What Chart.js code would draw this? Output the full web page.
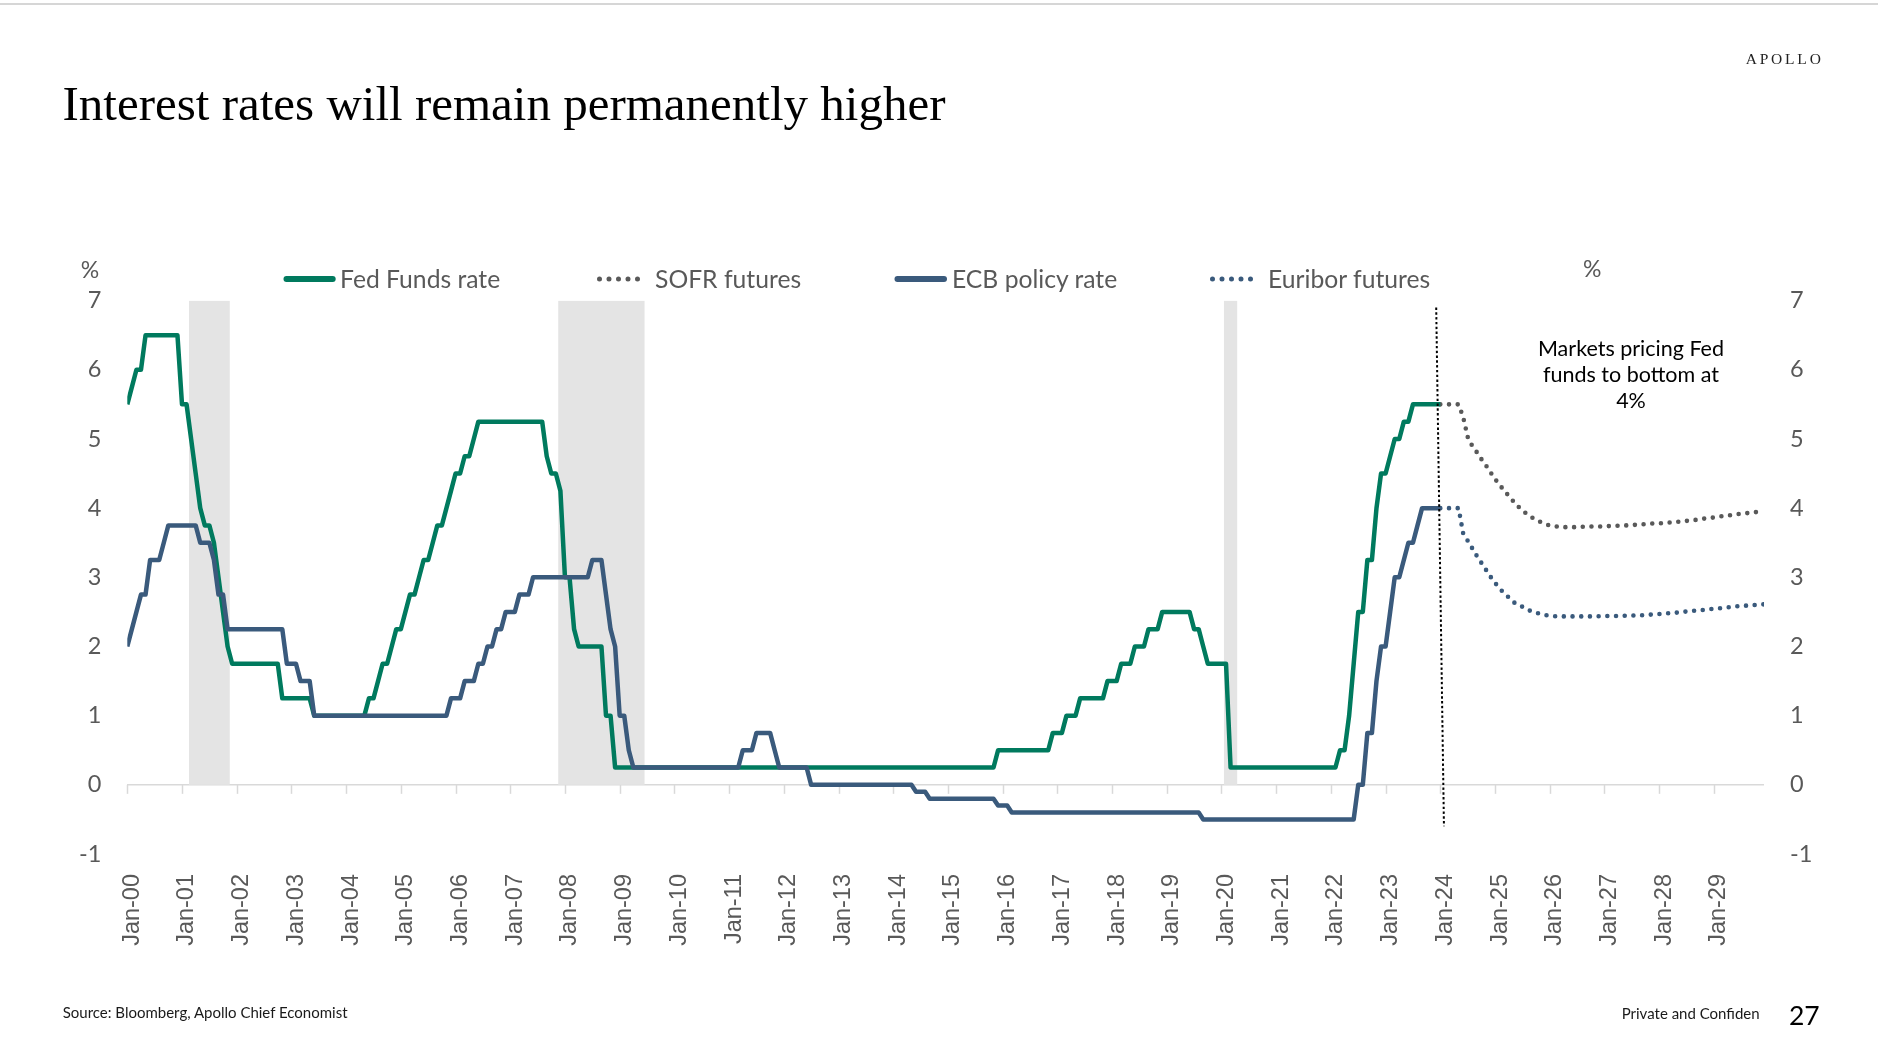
<!DOCTYPE html>
<html>
<head>
<meta charset="utf-8">
<script src="https://cdn.jsdelivr.net/npm/chart.js@4.4.1/dist/chart.umd.min.js"></script>
<style>
  html, body { margin: 0; padding: 0; background: #ffffff; width: 1878px; height: 1060px; overflow: hidden; }
  #c { position: absolute; left: 0; top: 0; width: 1878px; height: 1060px; }
  #ov { position: absolute; left: 0; top: 0; pointer-events: none; }
</style>
</head>
<body>
<canvas id="c" width="1878" height="1060"></canvas>
<svg id="ov" width="1878" height="1060" xmlns="http://www.w3.org/2000/svg">
  <defs>
    <clipPath id="confClip"><rect x="1600" y="990" width="160" height="50"/></clipPath>
  </defs>
  <rect x="0" y="3" width="1878" height="2" fill="#d6d6d6"/>
  <text x="1745.7" y="64.3" font-family="Liberation Serif" font-size="15.5" letter-spacing="2.8" fill="#222">APOLLO</text>
  <text x="62.5" y="119.5" font-family="Liberation Serif" font-size="49" fill="#000">Interest rates will remain permanently higher</text>

  <!-- legend -->
  <g id="legend" font-family="Lato" font-size="24.7" fill="#595959"></g>

  <!-- axis unit labels -->
  <text x="90" y="278" text-anchor="middle" font-family="Lato" font-size="23" fill="#595959">%</text>
  <text x="1592.3" y="277.3" text-anchor="middle" font-family="Lato" font-size="23" fill="#595959">%</text>

  <!-- annotation -->
  <g font-family="Lato" font-size="21.5" fill="#000" text-anchor="middle">
    <text x="1631" y="356">Markets pricing Fed</text>
    <text x="1631" y="381.7">funds to bottom at</text>
    <text x="1631" y="407.7">4%</text>
  </g>

  <!-- footer -->
  <text x="62.7" y="1017.7" font-family="Lato" font-size="15" fill="#1a1a1a">Source: Bloomberg, Apollo Chief Economist</text>
  <text x="1621.7" y="1019" font-family="Lato" font-size="15" fill="#1a1a1a" clip-path="url(#confClip)">Private and Confidential</text>
  <text x="1789" y="1025" font-family="Lato" font-size="26.5" fill="#000">27</text>
</svg>

<script>
// ---------------- DATA ----------------
// Year tick labels along the x axis (one per January)
const xTickLabels = ['Jan-00','Jan-01','Jan-02','Jan-03','Jan-04','Jan-05','Jan-06','Jan-07','Jan-08','Jan-09',
  'Jan-10','Jan-11','Jan-12','Jan-13','Jan-14','Jan-15','Jan-16','Jan-17','Jan-18','Jan-19',
  'Jan-20','Jan-21','Jan-22','Jan-23','Jan-24','Jan-25','Jan-26','Jan-27','Jan-28','Jan-29'];
const yTickValues = [-1, 0, 1, 2, 3, 4, 5, 6, 7];

// Fed Funds rate (upper bound, %), monthly vertices of the line
const fedDates = [
  '2000-01','2000-02','2000-03','2000-04','2000-05','2000-12',
  '2001-01','2001-02','2001-03','2001-04','2001-05','2001-06','2001-07','2001-08','2001-09','2001-10','2001-11','2001-12',
  '2002-10','2002-11','2003-05','2003-06','2004-05','2004-06','2004-07','2004-08','2004-09','2004-10','2004-11','2004-12',
  '2005-01','2005-02','2005-03','2005-04','2005-05','2005-06','2005-07','2005-08','2005-09','2005-10','2005-11','2005-12',
  '2006-01','2006-02','2006-03','2006-04','2006-05','2006-06',
  '2007-08','2007-09','2007-10','2007-11','2007-12',
  '2008-01','2008-02','2008-03','2008-04','2008-09','2008-10','2008-11','2008-12',
  '2015-11','2015-12','2016-11','2016-12','2017-02','2017-03','2017-05','2017-06','2017-11','2017-12',
  '2018-02','2018-03','2018-05','2018-06','2018-08','2018-09','2018-11','2018-12',
  '2019-06','2019-07','2019-08','2019-09','2019-10','2020-02','2020-03',
  '2022-02','2022-03','2022-04','2022-05','2022-06','2022-07','2022-08','2022-09','2022-10','2022-11','2022-12',
  '2023-01','2023-02','2023-03','2023-04','2023-05','2023-06','2023-07','2024-01'];
const fedRates = [
  5.5,5.75,6.0,6.0,6.5,6.5,
  5.5,5.5,5.0,4.5,4.0,3.75,3.75,3.5,3.0,2.5,2.0,1.75,
  1.75,1.25,1.25,1.0,1.0,1.25,1.25,1.5,1.75,1.75,2.0,2.25,
  2.25,2.5,2.75,2.75,3.0,3.25,3.25,3.5,3.75,3.75,4.0,4.25,
  4.5,4.5,4.75,4.75,5.0,5.25,
  5.25,4.75,4.5,4.5,4.25,
  3.0,3.0,2.25,2.0,2.0,1.0,1.0,0.25,
  0.25,0.5,0.5,0.75,0.75,1.0,1.0,1.25,1.25,1.5,
  1.5,1.75,1.75,2.0,2.0,2.25,2.25,2.5,
  2.5,2.25,2.25,2.0,1.75,1.75,0.25,
  0.25,0.5,0.5,1.0,1.75,2.5,2.5,3.25,3.25,4.0,4.5,
  4.5,4.75,5.0,5.0,5.25,5.25,5.5,5.5];

// ECB policy (deposit facility) rate (%), monthly vertices of the line
const ecbDates = [
  '2000-01','2000-02','2000-03','2000-04','2000-05','2000-06','2000-08','2000-09','2000-10',
  '2001-04','2001-05','2001-07','2001-08','2001-09','2001-10','2001-11',
  '2002-11','2002-12','2003-02','2003-03','2003-05','2003-06',
  '2005-11','2005-12','2006-02','2006-03','2006-05','2006-06','2006-07','2006-08','2006-09','2006-10','2006-11','2006-12',
  '2007-02','2007-03','2007-05','2007-06',
  '2008-06','2008-07','2008-09','2008-10','2008-11','2008-12','2009-01','2009-02','2009-03','2009-04',
  '2011-03','2011-04','2011-06','2011-07','2011-10','2011-11','2011-12','2012-06','2012-07',
  '2014-05','2014-06','2014-08','2014-09','2015-11','2015-12','2016-02','2016-03','2019-08','2019-09',
  '2022-06','2022-07','2022-08','2022-09','2022-10','2022-11','2022-12',
  '2023-01','2023-02','2023-03','2023-04','2023-05','2023-06','2023-07','2023-08','2023-09','2024-01'];
const ecbRates = [
  2.0,2.25,2.5,2.75,2.75,3.25,3.25,3.5,3.75,
  3.75,3.5,3.5,3.25,2.75,2.75,2.25,
  2.25,1.75,1.75,1.5,1.5,1.0,
  1.0,1.25,1.25,1.5,1.5,1.75,1.75,2.0,2.0,2.25,2.25,2.5,
  2.5,2.75,2.75,3.0,
  3.0,3.25,3.25,2.75,2.25,2.0,1.0,1.0,0.5,0.25,
  0.25,0.5,0.5,0.75,0.75,0.5,0.25,0.25,0.0,
  0.0,-0.1,-0.1,-0.2,-0.2,-0.3,-0.3,-0.4,-0.4,-0.5,
  -0.5,0.0,0.0,0.75,0.75,1.5,2.0,
  2.0,2.5,3.0,3.0,3.25,3.5,3.5,3.75,4.0,4.0];

// Futures-implied paths, monthly from Jan-2024 to Dec-2029
const futuresStart = '2024-01';
const sofrFutures = [
  5.50,5.50,5.50,5.50,5.50,5.32,5.03,4.90,4.81,4.71,4.62,4.52,
  4.42,4.34,4.25,4.18,4.10,4.03,3.96,3.92,3.87,3.83,3.80,3.77,
  3.75,3.74,3.73,3.725,3.725,3.725,3.725,3.73,3.73,3.735,3.735,3.735,
  3.74,3.74,3.74,3.745,3.75,3.75,3.755,3.76,3.765,3.77,3.775,3.78,
  3.78,3.785,3.79,3.795,3.80,3.81,3.815,3.825,3.83,3.84,3.85,3.855,
  3.865,3.875,3.885,3.895,3.90,3.91,3.92,3.925,3.935,3.94,3.95,3.96];
const euriborFutures = [
  4.00,4.00,4.00,4.00,4.00,3.64,3.53,3.42,3.31,3.21,3.11,3.01,
  2.92,2.84,2.77,2.71,2.645,2.60,2.575,2.54,2.506,2.487,2.47,2.455,
  2.444,2.438,2.435,2.435,2.435,2.435,2.435,2.435,2.435,2.435,2.435,2.437,
  2.44,2.44,2.44,2.44,2.445,2.445,2.445,2.45,2.45,2.455,2.46,2.465,
  2.47,2.475,2.48,2.485,2.49,2.50,2.505,2.51,2.52,2.525,2.53,2.54,
  2.545,2.55,2.56,2.565,2.57,2.58,2.585,2.59,2.60,2.60,2.605,2.61];

// US recessions (monthly, inclusive)
const recessionStarts = ['2001-03','2007-12','2020-02'];
const recessionEnds   = ['2001-11','2009-06','2020-04'];
const recessionTop = 7;

// "Today" marker (month index, value) - drawn dotted, slightly slanted as in the source
const markerX = [287.1, 288.8];
const markerY = [6.9, -0.6];

// ---------------- STYLE ----------------
const FED_COLOR = '#007a5e';
const ECB_COLOR = '#3a5a7c';
const SOFR_COLOR = '#595959';
const TEXT_GREY = '#595959';
const SHADE = '#e4e4e4';

// ---------------- BUILD ----------------
function monthIndex(s) { const p = s.split('-').map(Number); return (p[0] - 2000) * 12 + (p[1] - 1); }
const fedData = fedDates.map((d, i) => ({ x: monthIndex(d), y: fedRates[i] }));
const ecbData = ecbDates.map((d, i) => ({ x: monthIndex(d), y: ecbRates[i] }));
const f0 = monthIndex(futuresStart);
const sofrData = sofrFutures.map((v, i) => ({ x: f0 + i, y: v }));
const euriborData = euriborFutures.map((v, i) => ({ x: f0 + i, y: v }));
const markerData = markerX.map((x, i) => ({ x, y: markerY[i] }));

const dotted = { borderDash: [0, 8.7], borderCapStyle: 'round', borderWidth: 4.6 };

const datasets = [
  { label: 'Today', data: markerData, borderColor: '#000', borderWidth: 2, borderDash: [2.4, 2.4], pointRadius: 0, order: 0 },
  { label: 'ECB policy rate', data: ecbData, borderColor: ECB_COLOR, borderWidth: 4.5, borderJoinStyle: 'round', pointRadius: 0, order: 1 },
  { label: 'Fed Funds rate', data: fedData, borderColor: FED_COLOR, borderWidth: 4.5, borderJoinStyle: 'round', pointRadius: 0, order: 2 },
  Object.assign({ label: 'SOFR futures', data: sofrData, borderColor: SOFR_COLOR, pointRadius: 0, order: 3 }, dotted),
  Object.assign({ label: 'Euribor futures', data: euriborData, borderColor: ECB_COLOR, pointRadius: 0, order: 3 }, dotted)
];
recessionStarts.forEach((s, i) => {
  datasets.push({
    label: 'Recession', data: [{ x: monthIndex(s) - 0.5, y: recessionTop }, { x: monthIndex(recessionEnds[i]) + 0.5, y: recessionTop }],
    borderWidth: 0, borderColor: 'rgba(0,0,0,0)', backgroundColor: SHADE, fill: 'origin', pointRadius: 0, order: 10
  });
});

// tick marks hanging from the zero line at each January
const zeroTicks = {
  id: 'zeroTicks',
  beforeDatasetsDraw(chart) {
    const { ctx, scales } = chart;
    const y0 = scales.y.getPixelForValue(0);
    ctx.save();
    ctx.strokeStyle = '#d9d9d9';
    ctx.lineWidth = 1.5;
    xTickLabels.forEach((_, i) => {
      const x = Math.round(scales.x.getPixelForValue(i * 12)) + 0.5;
      ctx.beginPath(); ctx.moveTo(x, y0); ctx.lineTo(x, y0 + 9); ctx.stroke();
    });
    ctx.restore();
  }
};

function buildLegend() {
  const g = document.getElementById('legend');
  const NS = 'http://www.w3.org/2000/svg';
  const items = [
    { text: 'Fed Funds rate', color: FED_COLOR, dots: false, x1: 286.5, x2: 332.7, tx: 340 },
    { text: 'SOFR futures', color: SOFR_COLOR, dots: true, x1: 599.5, x2: 647, tx: 655 },
    { text: 'ECB policy rate', color: ECB_COLOR, dots: false, x1: 897.5, x2: 944, tx: 952 },
    { text: 'Euribor futures', color: ECB_COLOR, dots: true, x1: 1212.5, x2: 1260, tx: 1268 }
  ];
  items.forEach(it => {
    const l = document.createElementNS(NS, 'line');
    l.setAttribute('x1', it.x1); l.setAttribute('x2', it.x2);
    l.setAttribute('y1', 279); l.setAttribute('y2', 279);
    l.setAttribute('stroke', it.color);
    l.setAttribute('stroke-linecap', 'round');
    if (it.dots) { l.setAttribute('stroke-width', 5); l.setAttribute('stroke-dasharray', '0 9.5'); }
    else { l.setAttribute('stroke-width', 6); }
    g.appendChild(l);
    const t = document.createElementNS(NS, 'text');
    t.setAttribute('x', it.tx); t.setAttribute('y', 287.7);
    t.textContent = it.text;
    g.appendChild(t);
  });
}

const yTickFont = { family: 'Lato', size: 23.5 };

function draw() {
  buildLegend();
  new Chart(document.getElementById('c'), {
    type: 'line',
    data: { datasets },
    options: {
      responsive: false,
      animation: false,
      devicePixelRatio: window.devicePixelRatio || 1,
      layout: { padding: { top: 300.6, bottom: 0, left: 0, right: 0 } },
      plugins: { legend: { display: false }, tooltip: { enabled: false } },
      elements: { line: { tension: 0 } },
      scales: {
        x: {
          type: 'linear', min: 0, max: 359,
          afterBuildTicks: s => { s.ticks = xTickLabels.map((_, i) => ({ value: i * 12 })); },
          afterFit: s => { s.height = 206; },
          grid: { display: false },
          border: { display: false },
          ticks: {
            autoSkip: false, maxRotation: 90, minRotation: 90, padding: 12, labelOffset: 5,
            color: TEXT_GREY, font: { family: 'Liberation Sans', size: 23.5 },
            callback: v => xTickLabels[Math.round(v / 12)]
          }
        },
        y: {
          position: 'left', min: -1, max: 7,
          afterBuildTicks: s => { s.ticks = yTickValues.map(v => ({ value: v })); },
          afterFit: s => { s.width = 127.3; },
          ticks: { padding: 26, color: TEXT_GREY, font: yTickFont },
          grid: { drawTicks: false, lineWidth: 1.5, color: c => (c.tick && c.tick.value === 0) ? '#d9d9d9' : 'rgba(0,0,0,0)' },
          border: { display: false }
        },
        y2: {
          position: 'right', min: -1, max: 7,
          afterBuildTicks: s => { s.ticks = yTickValues.map(v => ({ value: v })); },
          afterFit: s => { s.width = 114; },
          ticks: { padding: 26, color: TEXT_GREY, font: yTickFont },
          grid: { display: false, drawTicks: false },
          border: { display: false }
        }
      }
    },
    plugins: [zeroTicks]
  });
}

if (document.fonts && document.fonts.load) {
  Promise.all([
    document.fonts.load('23px Lato'),
    document.fonts.load('23px "Liberation Sans"'),
    document.fonts.load('49px "Liberation Serif"')
  ]).then(draw, draw);
} else { draw(); }
</script>
</body>
</html>
